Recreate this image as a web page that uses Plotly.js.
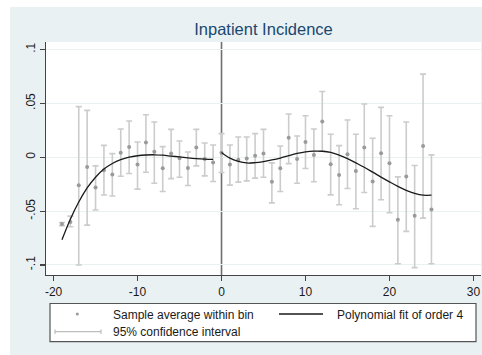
<!DOCTYPE html>
<html>
<head>
<meta charset="utf-8">
<script src="https://cdn.plot.ly/plotly-3.0.1.min.js"></script>
<style>
  html, body { margin: 0; padding: 0; background: #ffffff; }
  #chart { position: absolute; left: 10px; top: 7px; width: 472px; height: 348px; }
</style>
</head>
<body>
<div id="chart"></div>
<script>
// ---- data ----
const binX = [-19,-18,-17,-16,-15,-14,-13,-12,-11,-10,-9,-8,-7,-6,-5,-4,-3,-2,-1,
              0,1,2,3,4,5,6,7,8,9,10,11,12,13,14,15,16,17,18,19,20,21,22,23,24,25];
const binMean = [-0.062,-0.060,-0.026,-0.009,-0.028,-0.012,-0.016,0.0043,0.0096,-0.0068,0.0136,0.0052,-0.0102,0.0034,-0.0009,-0.0099,0.009,-0.0015,-0.0049,
                 0.0043,-0.0068,-0.0022,-0.0012,0.0015,0.0034,-0.0228,-0.0102,0.0182,-0.0015,0.0142,0.0022,0.0333,-0.0065,-0.0164,0.0028,-0.0127,0.009,-0.0225,0.0037,-0.0056,-0.058,-0.0179,-0.0543,0.0105,-0.0485];
const ciLow = [-0.0635,-0.0645,-0.100,-0.063,-0.049,-0.035,-0.036,-0.0176,-0.0151,-0.0296,-0.0139,-0.0241,-0.0318,-0.0198,-0.0185,-0.0262,-0.008,-0.0173,-0.0225,
               -0.0142,-0.0259,-0.0231,-0.0219,-0.0194,-0.0185,-0.0423,-0.0318,-0.0059,-0.0241,-0.0105,-0.0228,0.0056,-0.0349,-0.0441,-0.029,-0.0478,-0.0327,-0.0642,-0.0395,-0.0515,-0.0988,-0.0688,-0.1025,-0.0565,-0.0988];
const ciHigh = [-0.0605,-0.0546,0.047,0.0435,-0.008,0.011,0.0034,0.0262,0.0336,0.0142,0.0395,0.0327,0.0099,0.0259,0.0151,0.0049,0.0259,0.0133,0.0114,
                0.0219,0.0114,0.0188,0.0188,0.0219,0.0259,-0.0052,0.0105,0.0401,0.0198,0.0386,0.0262,0.0611,0.0213,0.0108,0.0346,0.0213,0.0494,0.0176,0.0463,0.0386,-0.0182,0.0327,-0.0077,0.0772,0.0022];

const fitLeftX = [-19,-18,-17,-16,-15,-14,-13,-12,-11,-10,-9,-8,-7,-6,-5,-4,-3,-2,-1];
const fitLeftY = [-0.0766,-0.0575,-0.0415,-0.0285,-0.0185,-0.011,-0.0058,-0.0022,0.0001,0.0014,0.0021,0.0023,0.0019,0.0011,0.0003,-0.0005,-0.0012,-0.0017,-0.002];
const fitRightX = [0,1,2,3,4,5,6,7,8,9,10,11,12,13,14,15,16,17,18,19,20,21,22,23,24,25];
const fitRightY = [0.0045,-0.0008,-0.0038,-0.0053,-0.005,-0.004,-0.0025,-0.0007,0.0015,0.0035,0.005,0.0057,0.0056,0.0045,0.002,-0.0012,-0.0052,-0.0093,-0.0138,-0.0184,-0.0228,-0.027,-0.0307,-0.0335,-0.0352,-0.0352];

const xTickVals = [-20,-10,0,10,20,30];
const xTickText = ['-20','-10','0','10','20','30'];
const yTickVals = [-0.1,-0.05,0,0.05,0.1];
const yTickText = ['-.1','-.05','0','.05','.1'];

const titleText = 'Inpatient Incidence';
const legendLabels = ['Sample average within bin','Polynomial fit of order 4','95% confidence interval'];

// ---- styling ----
const FONT = 'Liberation Sans, Arial, sans-serif';
const W = 472, H = 348, ML = 36, MR = 1, MT = 35, MB = 80;
const PW = W - ML - MR, PH = H - MT - MB;
const px = x => (x - ML) / PW;            // div px -> paper x
const py = y => (H - MB - y) / PH;        // div px -> paper y

const errPlus = ciHigh.map((h, i) => h - binMean[i]);
const errMinus = ciLow.map((l, i) => binMean[i] - l);

const traces = [
  {
    x: binX, y: binMean, type: 'scatter', mode: 'markers', showlegend: false,
    marker: { color: '#9a9a9a', size: 4 },
    error_y: { type: 'data', array: errPlus, arrayminus: errMinus, symmetric: false,
               color: '#cccccc', thickness: 1.6, width: 3 },
    hoverinfo: 'skip'
  },
  {
    x: fitLeftX, y: fitLeftY, type: 'scatter', mode: 'lines', showlegend: false,
    line: { color: '#1a1a1a', width: 1.3, shape: 'spline', smoothing: 1 }
  },
  {
    x: fitRightX, y: fitRightY, type: 'scatter', mode: 'lines', showlegend: false,
    line: { color: '#1a1a1a', width: 1.3, shape: 'spline', smoothing: 1 }
  }
];

const shapes = [
  // xline(0)
  { type: 'line', xref: 'x', yref: 'paper', x0: 0, x1: 0, y0: 0, y1: 1,
    line: { color: '#6e6e6e', width: 1.6 }, layer: 'below' },
  // legend box
  { type: 'rect', xref: 'paper', yref: 'paper', x0: px(40), x1: px(466), y0: py(296.5), y1: py(334.7),
    fillcolor: '#ffffff', line: { color: '#555555', width: 1.2 } },
  // legend: marker dot
  { type: 'circle', xref: 'paper', yref: 'paper', x0: px(65.8), x1: px(68.8), y0: py(308.5), y1: py(305.5),
    fillcolor: '#9a9a9a', line: { color: '#9a9a9a', width: 0 } },
  // legend: fit line
  { type: 'line', xref: 'paper', yref: 'paper', x0: px(269), x1: px(313), y0: py(307), y1: py(307),
    line: { color: '#1a1a1a', width: 1.3 } },
  // legend: CI symbol
  { type: 'line', xref: 'paper', yref: 'paper', x0: px(45), x1: px(91), y0: py(324.7), y1: py(324.7),
    line: { color: '#bdbdbd', width: 1.2 } },
  { type: 'line', xref: 'paper', yref: 'paper', x0: px(45), x1: px(45), y0: py(322.5), y1: py(327),
    line: { color: '#bdbdbd', width: 1.2 } },
  { type: 'line', xref: 'paper', yref: 'paper', x0: px(91), x1: px(91), y0: py(322.5), y1: py(327),
    line: { color: '#bdbdbd', width: 1.2 } }
];

const legendFont = { family: FONT, size: 12, color: '#1a1a1a' };
const annotations = [
  { text: legendLabels[0], xref: 'paper', yref: 'paper', x: px(101), y: py(307.5),
    xanchor: 'left', yanchor: 'middle', showarrow: false, font: legendFont },
  { text: legendLabels[1], xref: 'paper', yref: 'paper', x: px(324.5), y: py(307.5),
    xanchor: 'left', yanchor: 'middle', showarrow: false, font: legendFont },
  { text: legendLabels[2], xref: 'paper', yref: 'paper', x: px(101), y: py(324.7),
    xanchor: 'left', yanchor: 'middle', showarrow: false, font: legendFont }
];

const layout = {
  width: W, height: H,
  margin: { l: ML, r: MR, t: MT, b: MB, pad: 0 },
  paper_bgcolor: '#EAF1F3',
  plot_bgcolor: '#ffffff',
  showlegend: false,
  title: { text: titleText, font: { family: FONT, size: 16.5, color: '#1a476f' },
           x: 0.5, xref: 'paper', xanchor: 'center', y: 1 - 22.3 / H, yref: 'container', yanchor: 'middle' },
  xaxis: {
    range: [-20.9, 30.9], tickvals: xTickVals, ticktext: xTickText, ticks: 'outside', ticklen: 5, tickwidth: 1.2,
    tickcolor: '#444', showline: true, linecolor: '#444', linewidth: 1.4, showgrid: false,
    zeroline: false, tickfont: { family: FONT, size: 12, color: '#1a1a1a' }
  },
  yaxis: {
    range: [-0.1093, 0.107], tickvals: yTickVals, ticktext: yTickText, tickangle: -90,
    ticks: 'outside', ticklen: 5, tickwidth: 1.2, tickcolor: '#444',
    showline: true, linecolor: '#444', linewidth: 1.4,
    showgrid: true, gridcolor: '#EAF1F3', gridwidth: 1, zeroline: false,
    tickfont: { family: FONT, size: 12, color: '#1a1a1a' }
  },
  shapes: shapes,
  annotations: annotations
};

Plotly.newPlot('chart', traces, layout, { staticPlot: true, displayModeBar: false });
</script>
</body>
</html>
